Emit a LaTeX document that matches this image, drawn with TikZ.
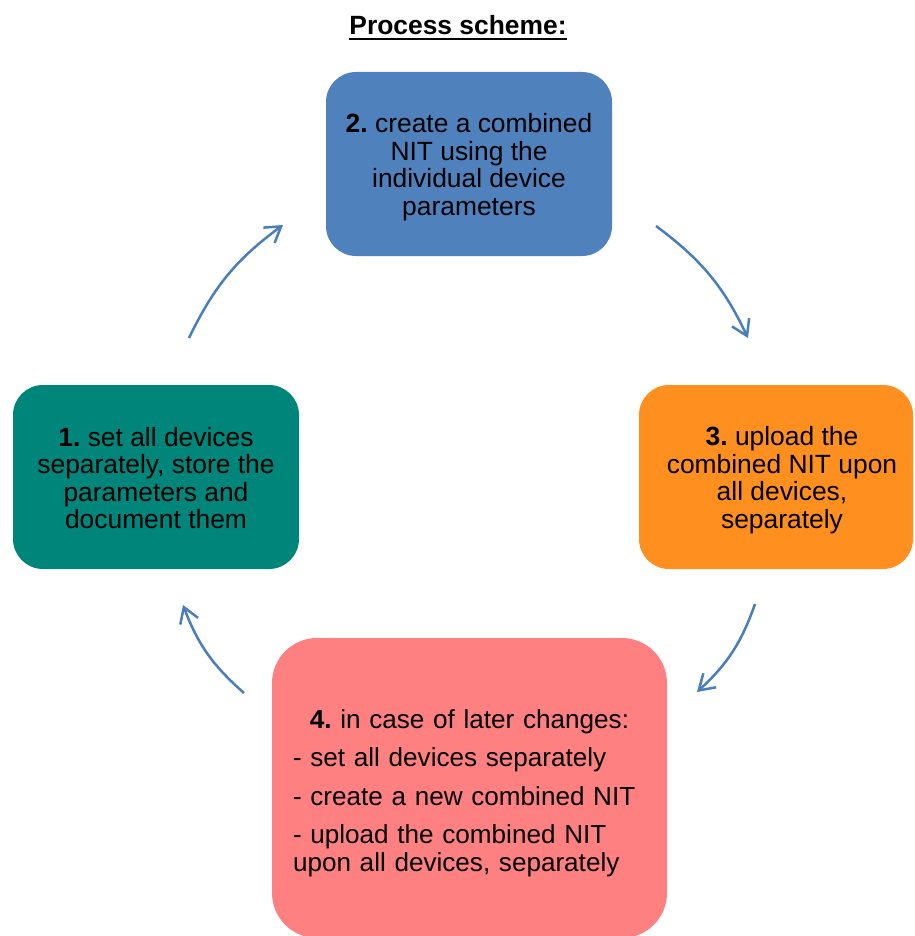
\documentclass[tikz,border=0pt]{standalone}
\usepackage{fontspec}
\setmainfont{Liberation Sans}
\usetikzlibrary{arrows.meta}
\definecolor{boxblue}{HTML}{4F81BD}
\definecolor{boxteal}{HTML}{00857A}
\definecolor{boxorange}{HTML}{FF8F1F}
\definecolor{boxpink}{HTML}{FF8080}
\definecolor{arrowblue}{HTML}{4A7EBB}
\frenchspacing
\begin{document}
\begin{tikzpicture}[x=1pt,y=-1pt,
  stepbox/.style={rounded corners=30pt, minimum width=286pt, minimum height=184pt, inner sep=0pt, draw=none},
  steptext/.style={align=center, font=\fontsize{26.4}{27.6}\selectfont, inner sep=0pt},
  flow/.style={draw=arrowblue, line width=2.5pt, -{Straight Barb[length=15pt,width=19pt]}}]
\useasboundingbox (0,0) rectangle (914,936);

% title
\node[font=\fontsize{26.4}{27.6}\selectfont\bfseries, inner sep=0pt, anchor=base] (title) at (458,35) {Process scheme:};
\draw[line width=2.6pt] ([yshift=-4pt]title.base west) -- ([yshift=-4pt]title.base east);

% boxes
\node[stepbox, fill=boxblue] (b2) at (469,164) {};
\node[stepbox, fill=boxteal] (b1) at (156,477) {};
\node[stepbox, fill=boxorange, minimum width=274pt] (b3) at (776,477) {};
\node[stepbox, fill=boxpink, rounded corners=45pt, minimum width=395pt, minimum height=300pt] (b4) at (469.5,788) {};

% texts
\node[steptext] (t2) at (469,167) {\textbf{2.} create a combined\\NIT using the\\individual device\\parameters};
\node[steptext] (t1) at (156,478) {\textbf{1.} set all devices\\separately, store the\\parameters and\\document them};
\node[steptext] (t3) at (782,480) {\textbf{3.} upload the\\combined NIT upon\\all devices,\\separately};
\node[steptext, align=left, text width=353pt, font=\fontsize{26.1}{27.4}\selectfont] (t4) at (469.5,793) {%
  \parskip=11pt
  {\centering\textbf{4.} in case of later changes:\par}
  \raggedright
  - set all devices separately\par
  - create a new combined NIT\par
  - upload the combined NIT\\upon all devices, separately\par};

% arrows
\coordinate (a1s) at (189,338);
\coordinate (a1e) at (283,225);
\coordinate (a2s) at (656,226);
\coordinate (a2e) at (748,338);
\coordinate (a3s) at (755,604);
\coordinate (a3e) at (697,692);
\coordinate (a4s) at (244,693);
\coordinate (a4e) at (183,605);
\draw[flow] (a1s) to[bend left=14] (a1e);
\draw[flow] (a2s) to[bend left=14] (a2e);
\draw[flow] (a3s) to[bend left=14] (a3e);
\draw[flow] (a4s) to[bend left=14] (a4e);
\end{tikzpicture}
\end{document}
